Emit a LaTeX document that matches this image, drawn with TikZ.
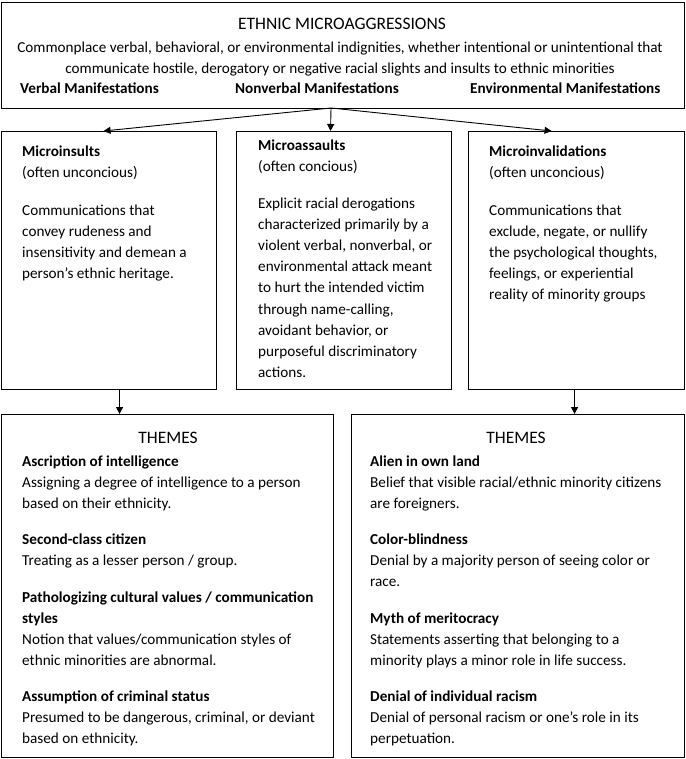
\documentclass[tikz,border=0pt]{standalone}
\usepackage{fontspec}
\setmainfont{Carlito}
\usetikzlibrary{arrows.meta}

\begin{document}
\begin{tikzpicture}[x=1pt,y=-1pt,
  box/.style={draw,line width=1.1pt,inner sep=0pt,anchor=north west},
  txt/.style={anchor=base west,inner sep=0pt,align=left,font=\fontsize{15.2}{21.2}\selectfont},
  head/.style={anchor=base,inner sep=0pt,font=\fontsize{17.5}{20}\selectfont},
  arr/.style={-{Triangle[length=7pt,width=7pt]},line width=0.9pt}]
\useasboundingbox (0,0) rectangle (685,759);
% Top box (text nodes sit on the baseline of their last line)
\node[box,minimum width=683pt,minimum height=106pt] (top) at (1,2) {};
\node[head] (title) at (342,30) {ETHNIC MICROAGGRESSIONS};
\node[txt,anchor=base,align=center] (def) at (340,74)
  {Commonplace verbal, behavioral, or environmental indignities, whether intentional or unintentional that\\
   communicate hostile, derogatory or negative racial slights and insults to ethnic minorities};
\node[txt] (verbal) at (20,94) {\textbf{Verbal Manifestations}};
\node[txt] (nonverbal) at (235,94) {\textbf{Nonverbal Manifestations}};
\node[txt] (environ) at (470,94) {\textbf{Environmental Manifestations}};
% Three forms
\node[box,minimum width=215pt,minimum height=258pt] (insults) at (1,131) {};
\node[box,minimum width=215pt,minimum height=258pt] (assaults) at (236,131) {};
\node[box,minimum width=216pt,minimum height=258pt] (invalid) at (468,131) {};
\node[txt] (insH) at (22,178) {\textbf{Microinsults}\\(often unconcious)};
\node[txt] (insB) at (22,278.6) {Communications that\\convey rudeness and\\insensitivity and demean a\\person's ethnic heritage.};
\node[txt] (assH) at (258,172) {\textbf{Microassaults}\\(often concious)};
\node[txt] (assB) at (258,377.6) {Explicit racial derogations\\characterized primarily by a\\violent verbal, nonverbal, or\\environmental attack meant\\to hurt the intended victim\\through name-calling,\\avoidant behavior, or\\purposeful discriminatory\\actions.};
\node[txt] (invH) at (489,178) {\textbf{Microinvalidations}\\(often unconcious)};
\node[txt] (invB) at (489,299.8) {Communications that\\exclude, negate, or nullify\\the psychological thoughts,\\feelings, or experiential\\reality of minority groups};
% Arrows from the top box
\coordinate (hub) at (331,108);
\draw[arr] (hub) -- ([xshift=-5.5pt]insults.north);
\draw[arr] (hub) -- ([xshift=-13.5pt]assaults.north);
\draw[arr] (hub) -- ([xshift=-25pt]invalid.north);
% Themes boxes
\node[box,minimum width=332pt,minimum height=343pt] (themesL) at (1,414) {};
\node[box,minimum width=333pt,minimum height=343pt] (themesR) at (351,414) {};
\draw[arr] ([xshift=10.5pt]insults.south) -- ([xshift=10.5pt]insults.south |- themesL.north);
\draw[arr] ([xshift=-2pt]invalid.south) -- ([xshift=-2pt]invalid.south |- themesR.north);
\node[head] (themesLH) at (168,443) {THEMES};
\node[head] (themesRH) at (516,443) {THEMES};
% Left themes
\node[txt] (ascr) at (22,508.4) {\textbf{Ascription of intelligence}\\Assigning a degree of intelligence to a person\\based on their ethnicity.};
\node[txt] (second) at (22,565.2) {\textbf{Second-class citizen}\\Treating as a lesser person / group.};
\node[txt] (patho) at (22,665.6) {\textbf{Pathologizing cultural values / communication}\\\textbf{styles}\\Notion that values/communication styles of\\ethnic minorities are abnormal.};
\node[txt] (crim) at (22,743.4) {\textbf{Assumption of criminal status}\\Presumed to be dangerous, criminal, or deviant\\based on ethnicity.};
% Right themes
\node[txt] (alien) at (370,508.4) {\textbf{Alien in own land}\\Belief that visible racial/ethnic minority citizens\\are foreigners.};
\node[txt] (color) at (370,586.4) {\textbf{Color-blindness}\\Denial by a majority person of seeing color or\\race.};
\node[txt] (myth) at (370,665.4) {\textbf{Myth of meritocracy}\\Statements asserting that belonging to a\\minority plays a minor role in life success.};
\node[txt] (denial) at (370,743.4) {\textbf{Denial of individual racism}\\Denial of personal racism or one's role in its\\perpetuation.};
\end{tikzpicture}
\end{document}
